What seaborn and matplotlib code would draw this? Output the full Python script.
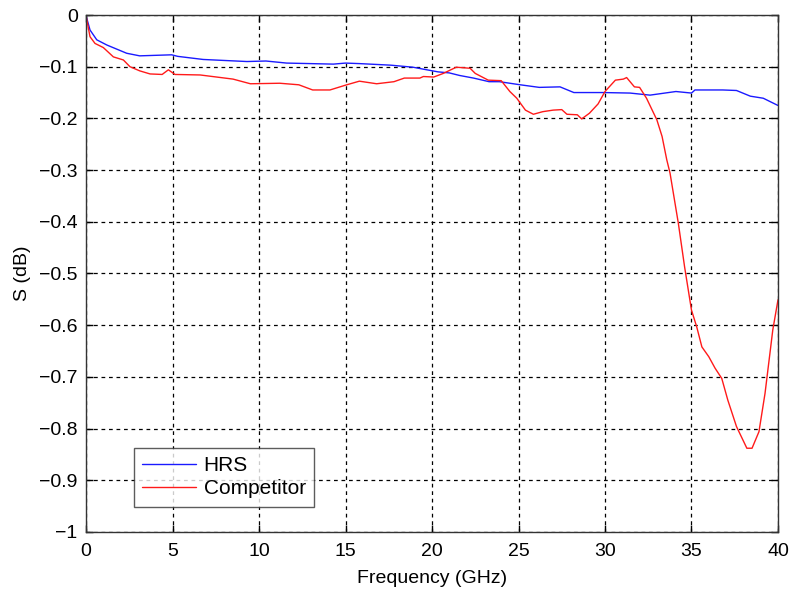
import pandas as pd
import matplotlib
matplotlib.use("Agg")
import matplotlib.pyplot as plt
import seaborn as sns

sns.set_theme(style="white")
plt.rcParams['font.family'] = ['Liberation Sans', 'DejaVu Sans']
plt.rcParams['text.color'] = 'black'

# HRS insertion loss
hrs_freq = [0.0, 0.04, 0.23, 0.62, 1.2, 2.35, 3.1, 4.95, 5.3, 6.77, 9.3, 10.4, 11.6,
            14.3, 15.0, 15.8, 17.6, 18.9, 19.7, 20.35, 21.0, 21.6, 22.4, 23.3, 23.9,
            25.1, 26.2, 27.4, 28.2, 29.9, 31.45, 32.6, 34.1, 35.0, 35.2, 36.8, 37.6,
            38.4, 39.15, 40.0]
hrs_db = [0.0, -0.006, -0.029, -0.048, -0.058, -0.074, -0.079, -0.077, -0.080, -0.086,
          -0.090, -0.089, -0.093, -0.095, -0.093, -0.094, -0.097, -0.101, -0.106, -0.110,
          -0.112, -0.117, -0.122, -0.129, -0.129, -0.135, -0.140, -0.139, -0.150, -0.150,
          -0.151, -0.155, -0.148, -0.151, -0.145, -0.145, -0.146, -0.157, -0.161, -0.175]

# Competitor insertion loss
comp_freq = [0.0, 0.05, 0.23, 0.52, 1.0, 1.58, 2.16, 2.54, 3.1, 3.7, 4.4, 4.76, 5.14,
             6.6, 8.5, 9.5, 11.2, 12.3, 13.1, 14.1, 15.07, 15.8, 16.8, 17.8, 18.4, 19.3,
             19.5, 20.1, 20.65, 21.4, 22.2, 22.5, 23.25, 24.0, 24.5, 24.9, 25.4, 25.86,
             26.4, 27.0, 27.5, 27.8, 28.4, 28.65, 29.1, 29.6, 30.0, 30.6, 31.06, 31.25,
             31.7, 32.0, 32.4, 33.0, 33.3, 33.57, 33.76, 34.24, 34.6, 35.0, 35.3, 35.6,
             36.0, 36.36, 36.75, 37.1, 37.6, 38.2, 38.5, 38.9, 39.25, 39.7, 40.0]
comp_db = [0.0, -0.010, -0.042, -0.055, -0.063, -0.081, -0.087, -0.100, -0.108, -0.114,
           -0.115, -0.106, -0.115, -0.116, -0.124, -0.133, -0.132, -0.135, -0.145, -0.145,
           -0.135, -0.128, -0.133, -0.129, -0.122, -0.122, -0.119, -0.120, -0.113, -0.101,
           -0.103, -0.113, -0.126, -0.127, -0.148, -0.161, -0.184, -0.192, -0.187, -0.184,
           -0.183, -0.192, -0.193, -0.201, -0.190, -0.172, -0.148, -0.126, -0.124, -0.121,
           -0.139, -0.140, -0.161, -0.203, -0.235, -0.280, -0.306, -0.403, -0.487, -0.571,
           -0.603, -0.642, -0.661, -0.683, -0.703, -0.745, -0.796, -0.838, -0.838, -0.806,
           -0.732, -0.609, -0.551]

x_ticks = [0, 5, 10, 15, 20, 25, 30, 35, 40]
y_ticks = [-1, -0.9, -0.8, -0.7, -0.6, -0.5, -0.4, -0.3, -0.2, -0.1, 0]

df = pd.concat([
    pd.DataFrame({'freq': hrs_freq, 'db': hrs_db, 'series': 'HRS'}),
    pd.DataFrame({'freq': comp_freq, 'db': comp_db, 'series': 'Competitor'}),
], ignore_index=True)

fig = plt.figure(figsize=(7.9, 5.93), dpi=100)
ax = fig.add_axes([0.1089, 0.1029, 0.8759, 0.8718])

sns.lineplot(data=df, x='freq', y='db', hue='series', estimator=None, sort=False,
             palette={'HRS': '#1a1aff', 'Competitor': '#ff1a1a'}, linewidth=1.0, ax=ax)

ax.set_xlim(0, 40)
ax.set_ylim(-1, 0)
ax.set_xticks(x_ticks)
ax.set_xticklabels([str(t) for t in x_ticks])
ax.set_yticks(y_ticks)
ax.set_yticklabels([f"{t:g}".replace('-', '\u2212') for t in y_ticks])
ax.grid(True, color='black', linestyle=(0, (3, 3)), linewidth=0.9)
ax.tick_params(direction='in', length=5, width=1, colors='black', labelsize=14,
               top=True, right=True, bottom=True, left=True)
ax.tick_params(axis='x', pad=8)
ax.tick_params(axis='y', pad=6)
for sp in ax.spines.values():
    sp.set_color('#333333')
    sp.set_linewidth(1.0)

ax.set_xlabel('Frequency (GHz)', fontsize=14, color='black', labelpad=7)
ax.set_ylabel('S (dB)', fontsize=14, color='black', labelpad=6)

leg = ax.legend(loc='lower left', bbox_to_anchor=(0.069, 0.049), fontsize=15,
                frameon=True, fancybox=False, edgecolor='#333333',
                borderaxespad=0, handlelength=2.6, handletextpad=0.35,
                borderpad=0.4, labelspacing=0.2)
leg.get_frame().set_linewidth(1.0)

fig.savefig('out.png', dpi=100)
